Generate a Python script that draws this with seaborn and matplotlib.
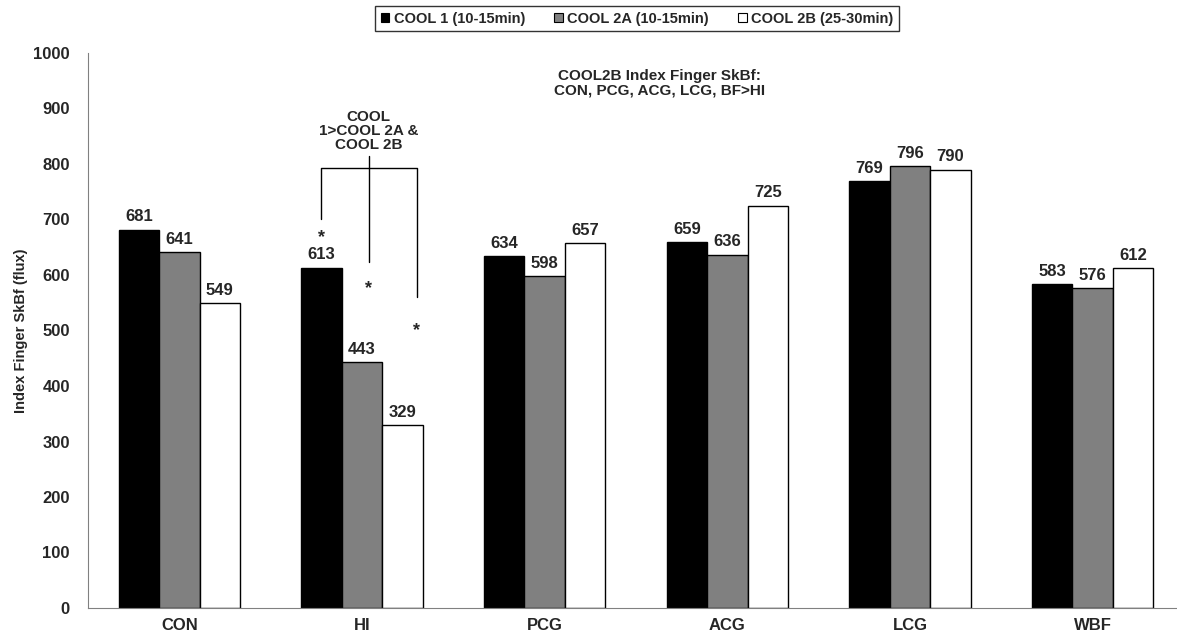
import numpy as np
import pandas as pd
import matplotlib
matplotlib.use("Agg")
import matplotlib.pyplot as plt
import seaborn as sns

sns.set_style("white")
plt.rcParams['font.family'] = ['Liberation Sans', 'DejaVu Sans']
plt.rcParams['font.weight'] = 'bold'

groups = ["CON", "HI", "PCG", "ACG", "LCG", "WBF"]
series = ["COOL 1 (10-15min)", "COOL 2A (10-15min)", "COOL 2B (25-30min)"]
cool1 = [681, 613, 634, 659, 769, 583]
cool2a = [641, 443, 598, 636, 796, 576]
cool2b = [549, 329, 657, 725, 790, 612]
colors = ["#000000", "#808080", "#ffffff"]

df = pd.DataFrame({
    "group": groups * 3,
    "series": [series[0]] * 6 + [series[1]] * 6 + [series[2]] * 6,
    "value": cool1 + cool2a + cool2b,
})

fig = plt.figure(figsize=(11.77, 6.4), dpi=100)
ax = fig.add_axes([88 / 1177, 32 / 640, 1096 / 1177, 555 / 640])

sns.barplot(data=df, x="group", y="value", hue="series", palette=colors,
            order=groups, hue_order=series, width=0.665, edgecolor="black",
            linewidth=1.0, ax=ax, legend=False)

for cont in ax.containers:
    ax.bar_label(cont, fmt="%d", padding=4, fontsize=12, fontweight="bold")

ax.set_ylim(0, 1000)
ax.set_xlim(-0.5, 5.5)
ax.set_yticks(np.arange(0, 1001, 100))
ax.set_xticks(range(6))
ax.set_xticklabels(groups, fontsize=12, fontweight="bold")
ax.set_xticks(np.arange(-0.5, 5.6, 1), minor=True)
ax.tick_params(axis="x", which="major", length=0, pad=7)
ax.tick_params(axis="x", which="minor", length=5, direction="out", color="#666666")
ax.tick_params(axis="y", length=5, direction="out", color="#666666", labelsize=12, pad=8)
for lab in ax.get_yticklabels():
    lab.set_fontweight("bold")
ax.set_xlabel("")
ax.set_ylabel("Index Finger SkBf (flux)", fontsize=10.5, fontweight="bold", labelpad=4)
sns.despine(ax=ax)
ax.spines["left"].set_color("#808080")
ax.spines["bottom"].set_color("#808080")

# significance bracket on HI
bx_l, bx_m, bx_r = 0.778, 1.036, 1.30
ax.plot([bx_l, bx_l, bx_r, bx_r], [700, 793, 793, 560], color="black", lw=1)
ax.plot([bx_m, bx_m], [623, 815], color="black", lw=1)
ax.text(bx_l, 668, "*", ha="center", va="center", fontsize=13, fontweight="bold")
ax.text(bx_m, 576, "*", ha="center", va="center", fontsize=13, fontweight="bold")
ax.text(bx_r, 500, "*", ha="center", va="center", fontsize=13, fontweight="bold")
ax.text(bx_m, 860, "COOL\n1>COOL 2A &\nCOOL 2B", ha="center", va="center",
        fontsize=11, fontweight="bold", linespacing=1.0)
ax.text(2.63, 946, "COOL2B Index Finger SkBf:\nCON, PCG, ACG, LCG, BF>HI",
        ha="center", va="center", fontsize=11, fontweight="bold", linespacing=1.05)

handles = [plt.Rectangle((0, 0), 1, 1, facecolor=c, edgecolor="black", lw=0.8) for c in colors]
fig.legend(handles, series, loc="center", bbox_to_anchor=(637 / 1177, 1 - 18.5 / 640),
           ncol=3, frameon=True, fancybox=False, edgecolor="black",
           handlelength=0.6, handleheight=0.6, handletextpad=0.3, columnspacing=2.0,
           borderpad=0.4, prop={"weight": "bold", "size": 10.5})

fig.savefig("out.png", dpi=100)
